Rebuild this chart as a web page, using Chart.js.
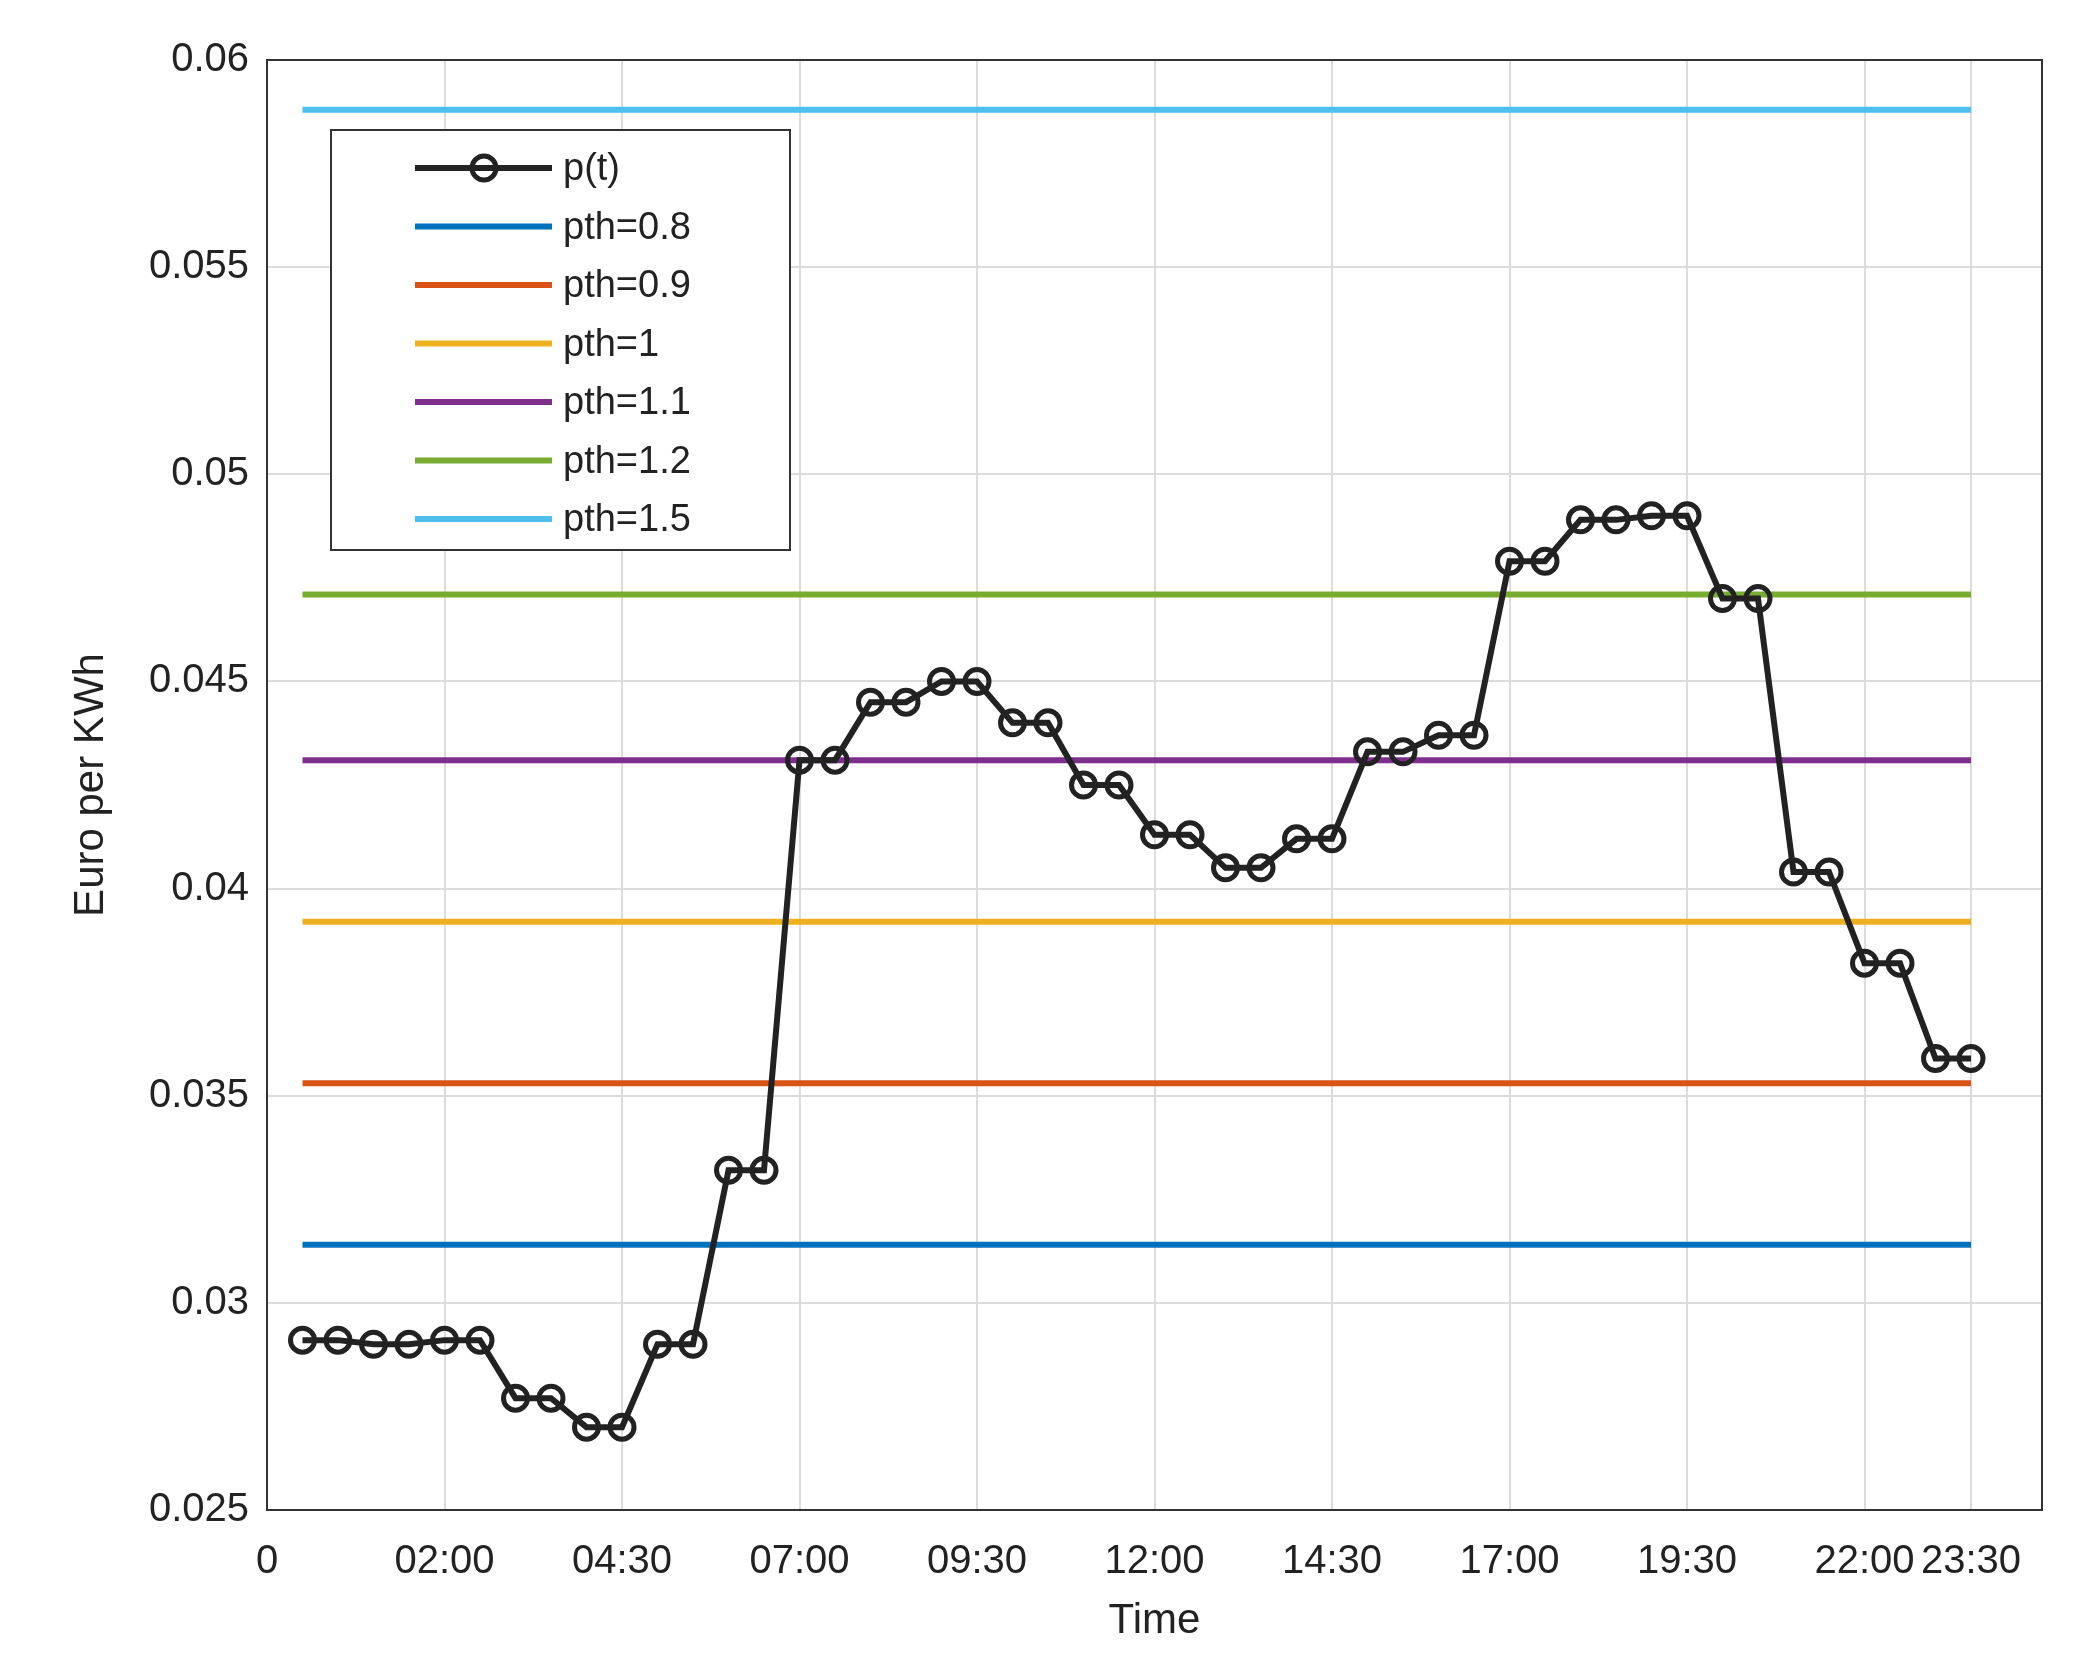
<!DOCTYPE html>
<html><head><meta charset="utf-8">
<script src="https://cdn.jsdelivr.net/npm/chart.js@4"></script>
<style>html,body{margin:0;background:#fff}#w{width:2085px;height:1665px}</style>
</head><body><div id="w"><canvas id="c"></canvas></div>
<script>
const slots = Array.from({length:48},(_,i)=>i+1);
const price = [0.0291,0.0291,0.0290,0.0290,0.0291,0.0291,0.0277,0.0277,0.0270,0.0270,0.0290,0.0290,
0.0332,0.0332,0.0431,0.0431,0.0445,0.0445,0.0450,0.0450,0.0440,0.0440,0.0425,0.0425,
0.0413,0.0413,0.0405,0.0405,0.0412,0.0412,0.0433,0.0433,0.0437,0.0437,0.0479,0.0479,
0.0489,0.0489,0.0490,0.0490,0.0470,0.0470,0.0404,0.0404,0.0382,0.0382,0.0359,0.0359];
const thrNames = ['pth=0.8','pth=0.9','pth=1','pth=1.1','pth=1.2','pth=1.5'];
const thrValues = [0.0314,0.0353,0.0392,0.0431,0.0471,0.0588];
const thrColors = ['#0072bd','#d95319','#edb120','#7e2f8e','#77ac30','#4dbeee'];
const tickPos = [0,5,10,15,20,25,30,35,40,45,48];
const tickLabels = ['0','02:00','04:30','07:00','09:30','12:00','14:30','17:00','19:30','22:00','23:30'];

const datasets = thrValues.map((v,i)=>({label:thrNames[i],data:[{x:1,y:v},{x:48,y:v}],borderColor:thrColors[i],borderWidth:6,pointRadius:0,order:2}));
datasets.push({label:'p(t)',data:slots.map((s,i)=>({x:s,y:price[i]})),borderColor:'#222',borderWidth:6,pointRadius:12,pointBorderWidth:5,pointBackgroundColor:'rgba(255,255,255,0)',pointBorderColor:'#222',order:1});

const F='Liberation Sans, Arial, sans-serif';
const legendPlugin={id:'leg',afterDraw(ch){
  const c=ch.ctx;const x0=331,y0=130,w=459,h=420;
  c.save();c.fillStyle='#fff';c.fillRect(x0,y0,w,h);c.strokeStyle='#333';c.lineWidth=2;c.strokeRect(x0,y0,w,h);
  const items=[{n:'p(t)',col:'#222',mk:true}].concat(thrNames.map((n,i)=>({n,col:thrColors[i]})));
  c.font='38px '+F;c.textBaseline='middle';
  items.forEach((it,i)=>{const y=y0+38+i*58.5;
    c.strokeStyle=it.col;c.lineWidth=6;c.beginPath();c.moveTo(415,y);c.lineTo(552,y);c.stroke();
    if(it.mk){c.lineWidth=5;c.beginPath();c.arc(484,y,12,0,Math.PI*2);c.stroke();}
    c.fillStyle='#222';c.fillText(it.n,563,y+2);});
  c.restore();}};
const framePlugin={id:'frame',afterDatasetsDraw(ch){const a=ch.chartArea,c=ch.ctx;c.save();c.strokeStyle='#333';c.lineWidth=2;c.strokeRect(a.left,a.top,a.right-a.left,a.bottom-a.top);c.restore();}};

new Chart(document.getElementById('c'),{type:'line',data:{datasets},
options:{responsive:true,maintainAspectRatio:false,animation:false,
 layout:{padding:{top:60,right:43,left:62,bottom:14}},
 plugins:{legend:{display:false},tooltip:{enabled:false}},
 scales:{
  x:{type:'linear',min:0,max:50,
   afterBuildTicks(s){s.ticks=tickPos.map(v=>({value:v}));},
   afterFit(s){s.height=141;},
   ticks:{autoSkip:false,maxRotation:0,color:'#222',font:{size:40,family:F},padding:28,callback:(v)=>tickLabels[tickPos.indexOf(v)]},
   grid:{color:'#dcdcdc',lineWidth:2,tickLength:0},border:{display:false},
   title:{display:true,text:'Time',color:'#222',font:{size:42,family:F},padding:{top:4}}},
  y:{min:0.025,max:0.06,
   afterBuildTicks(s){s.ticks=[0.025,0.03,0.035,0.04,0.045,0.05,0.055,0.06].map(v=>({value:v}));},
   afterFit(s){s.width=205;},
   ticks:{color:'#222',font:{size:40,family:F},padding:18,callback:v=>String(+v.toFixed(3))},
   grid:{color:'#dcdcdc',lineWidth:2,tickLength:0},border:{display:false},
   title:{display:true,text:'Euro per KWh',color:'#222',font:{size:42,family:F}}}}},
plugins:[framePlugin,legendPlugin]});
</script></body></html>
